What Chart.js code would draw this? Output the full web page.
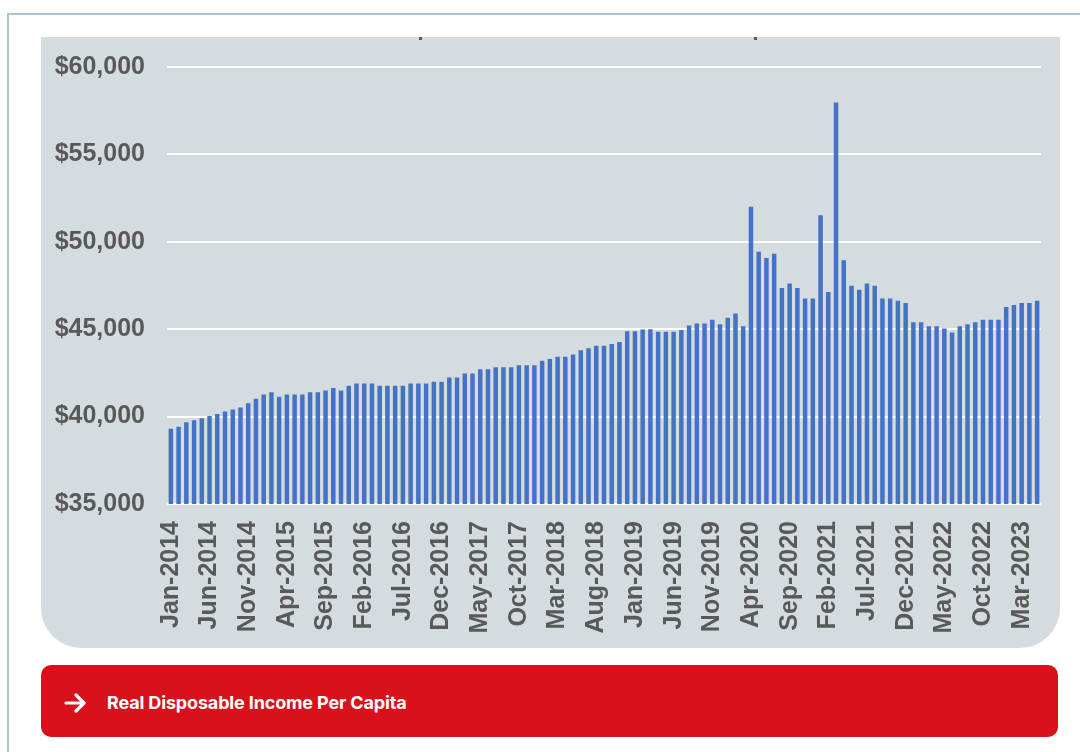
<!DOCTYPE html>
<html>
<head>
<meta charset="utf-8">
<script src="https://cdn.jsdelivr.net/npm/chart.js@4"></script>
<style>
  html, body { margin: 0; padding: 0; background: #ffffff; }
  body { width: 1080px; height: 752px; position: relative; overflow: hidden; font-family: "Liberation Sans", Arial, sans-serif; }
  .frame { position: absolute; left: 7px; top: 13px; width: 1080px; height: 760px; border-left: 2px solid #a9c4d1; border-top: 2px solid #a9c4d1; }
  .panel { position: absolute; left: 41px; top: 37px; width: 1019px; height: 611px; background: #d5dce0; border-radius: 0 0 40px 40px; }
  .mark { position: absolute; top: 37px; width: 3px; height: 3px; background: #5a5a5a; }
  #chartWrap { position: absolute; left: 41px; top: 37px; width: 1019px; height: 611px; }
  .banner { position: absolute; left: 41px; top: 665px; width: 1017px; height: 72px; background: #d9111b; border-radius: 10px; color: #fff; }
  .banner svg { position: absolute; left: 23px; top: 28px; }
  .banner .txt { position: absolute; left: 66px; top: 27px; line-height: 22px; font: 700 18px Inter, "Open Sans", sans-serif; letter-spacing: -0.15px; }
</style>
</head>
<body>
<div class="frame"></div>
<div class="panel"></div>
<div class="mark" style="left:419px"></div>
<div class="mark" style="left:754px"></div>
<div id="chartWrap"><canvas id="barChartCanvas" width="1019" height="611"></canvas></div>
<div class="banner">
  <svg width="24" height="20" viewBox="0 0 24 20"><path d="M2 10 H20 M12 2 L20 10 L12 18" fill="none" stroke="#fff" stroke-width="3.2" stroke-linecap="round" stroke-linejoin="round"/></svg>
  <span class="txt">Real Disposable Income Per Capita</span>
</div>

<script>
// months Jan-2014 .. May-2023
var monthNames = ['Jan', 'Feb', 'Mar', 'Apr', 'May', 'Jun', 'Jul', 'Aug', 'Sep', 'Oct', 'Nov', 'Dec'];
var years = [2014, 2015, 2016, 2017, 2018, 2019, 2020, 2021, 2022, 2023];
var lastMonthCount = 5; // 2023 runs to May

var categories = [];
years.forEach(function(y) {
    var n = (y === 2023) ? lastMonthCount : 12;
    for (var m = 0; m < n; m++) {
        categories.push(monthNames[m] + '-' + y);
    }
});

// real disposable income per capita (dollars)
var income2014 = [39300, 39420, 39670, 39790, 39900, 40040, 40150, 40290, 40400, 40520, 40770, 41020];
var income2015 = [41270, 41390, 41140, 41270, 41270, 41270, 41390, 41390, 41500, 41640, 41500, 41760];
var income2016 = [41890, 41890, 41890, 41760, 41760, 41760, 41760, 41890, 41890, 41890, 42000, 42000];
var income2017 = [42230, 42230, 42460, 42460, 42710, 42710, 42820, 42820, 42820, 42940, 42940, 42940];
var income2018 = [43190, 43300, 43430, 43430, 43550, 43800, 43910, 44050, 44050, 44160, 44270, 44880];
var income2019 = [44880, 44980, 45000, 44850, 44850, 44850, 44960, 45210, 45320, 45320, 45540, 45290];
var income2020 = [45650, 45900, 45170, 52000, 49430, 49070, 49320, 47360, 47610, 47360, 46750, 46750];
var income2021 = [51520, 47130, 57970, 48950, 47480, 47250, 47610, 47480, 46750, 46750, 46630, 46500];
var income2022 = [45400, 45400, 45170, 45170, 45040, 44810, 45170, 45290, 45400, 45540, 45540, 45540];
var income2023 = [46270, 46380, 46500, 46500, 46630];

var income = [].concat(income2014, income2015, income2016, income2017, income2018,
    income2019, income2020, income2021, income2022, income2023);

var yTicks = [35000, 40000, 45000, 50000, 55000, 60000];
var labelEvery = 5;

var tickFont = { family: '"Liberation Sans", Arial, sans-serif', size: 25, weight: 'bold' };

var ctx = document.getElementById('barChartCanvas').getContext('2d');
var myChart = new Chart(ctx, {
    type: 'bar',
    data: {
        labels: categories,
        datasets: [{
            label: 'Real Disposable Income Per Capita',
            data: income,
            backgroundColor: '#4472c4',
            borderWidth: 0,
            barPercentage: 0.58,
            categoryPercentage: 1.0
        }]
    },
    options: {
        responsive: false,
        animation: false,
        layout: { padding: { left: 12, right: 19, top: 30, bottom: 0 } },
        plugins: { legend: { display: false }, tooltip: { enabled: false } },
        scales: {
            x: {
                grid: { display: false, drawTicks: false },
                border: { display: false },
                ticks: {
                    autoSkip: false,
                    minRotation: 90,
                    maxRotation: 90,
                    padding: 17,
                    color: '#595959',
                    font: tickFont,
                    callback: function(value, index) {
                        return index % labelEvery === 0 ? categories[index] : '';
                    }
                },
                afterFit: function(scale) {
                    scale.height = 144;
                    scale.paddingLeft = 0;
                    scale.paddingRight = 0;
                }
            },
            y: {
                min: yTicks[0],
                max: yTicks[yTicks.length - 1],
                grid: { color: '#ffffff', lineWidth: 2, drawTicks: false },
                border: { display: false },
                afterBuildTicks: function(scale) {
                    scale.ticks = yTicks.map(function(v) { return { value: v }; });
                },
                ticks: {
                    padding: 22,
                    color: '#595959',
                    font: tickFont,
                    callback: function(value) {
                        return '$' + value.toLocaleString('en-US');
                    }
                },
                afterFit: function(scale) {
                    scale.width = 114;
                    scale.paddingTop = 0;
                    scale.paddingBottom = 0;
                }
            }
        }
    }
});
</script>
</body>
</html>
